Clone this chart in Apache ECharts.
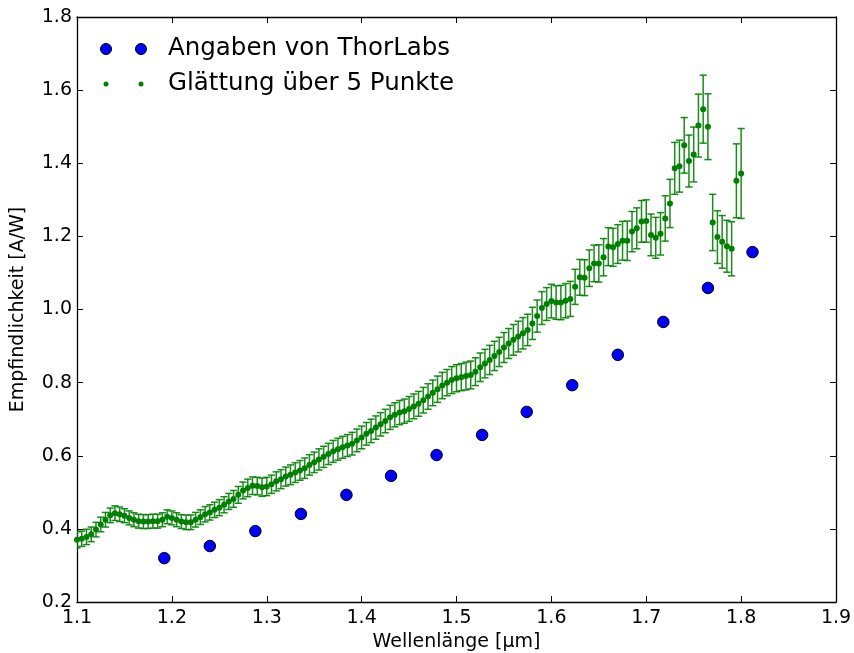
<!DOCTYPE html>
<html>
<head>
<meta charset="utf-8">
<script src="https://cdn.jsdelivr.net/npm/echarts@6/dist/echarts.min.js"></script>
<style>
html,body{margin:0;padding:0;background:#fff;}
#chart{width:854px;height:653px;}
</style>
</head>
<body>
<div id="chart"></div>
<script>
// ThorLabs reference data
var thorWavelength = [1.192,1.240,1.288,1.336,1.384,1.431,1.479,1.527,1.574,1.622,1.670,1.718,1.765,1.812];
var thorResponse   = [0.320,0.353,0.394,0.441,0.493,0.545,0.602,0.657,0.720,0.793,0.876,0.966,1.059,1.157];

// Smoothed measurement (5-point smoothing)
var smoothWavelength = [
1.100,1.105,1.110,1.115,1.120,1.125,1.130,1.135,1.140,1.145,
1.150,1.155,1.160,1.165,1.170,1.175,1.180,1.185,1.190,1.195,
1.200,1.205,1.210,1.215,1.220,1.225,1.230,1.235,1.240,1.245,
1.250,1.255,1.260,1.265,1.270,1.275,1.280,1.285,1.290,1.295,
1.300,1.305,1.310,1.315,1.320,1.325,1.330,1.335,1.340,1.345,
1.350,1.355,1.360,1.365,1.370,1.375,1.380,1.385,1.390,1.395,
1.400,1.405,1.410,1.415,1.420,1.425,1.430,1.435,1.440,1.445,
1.450,1.455,1.460,1.465,1.470,1.475,1.480,1.485,1.490,1.495,
1.500,1.505,1.510,1.515,1.520,1.525,1.530,1.535,1.540,1.545,
1.550,1.555,1.560,1.565,1.570,1.575,1.580,1.585,1.590,1.595,
1.600,1.605,1.610,1.615,1.620,1.625,1.630,1.635,1.640,1.645,
1.650,1.655,1.660,1.665,1.670,1.675,1.680,1.685,1.690,1.695,
1.700,1.705,1.710,1.715,1.720,1.725,1.730,1.735,1.740,1.745,
1.750,1.755,1.760,1.765,1.770,1.775,1.780,1.785,1.790,1.795,
1.800];
var smoothResponse = [
0.370,0.373,0.378,0.385,0.398,0.412,0.425,0.437,0.443,0.440,
0.436,0.430,0.425,0.421,0.420,0.420,0.421,0.421,0.425,0.433,
0.430,0.425,0.420,0.418,0.418,0.425,0.432,0.440,0.445,0.452,
0.458,0.466,0.475,0.482,0.493,0.505,0.512,0.518,0.517,0.514,
0.516,0.522,0.530,0.536,0.543,0.548,0.554,0.560,0.566,0.575,
0.582,0.590,0.597,0.605,0.612,0.618,0.623,0.628,0.633,0.642,
0.650,0.660,0.668,0.677,0.686,0.695,0.705,0.712,0.718,0.722,
0.728,0.735,0.742,0.752,0.762,0.772,0.782,0.792,0.800,0.807,
0.812,0.815,0.818,0.821,0.830,0.842,0.852,0.862,0.873,0.884,
0.896,0.907,0.917,0.926,0.935,0.944,0.962,0.982,1.004,1.015,
1.023,1.019,1.019,1.024,1.029,1.062,1.088,1.087,1.113,1.126,
1.126,1.143,1.172,1.170,1.179,1.188,1.188,1.213,1.222,1.241,
1.242,1.204,1.196,1.207,1.249,1.290,1.386,1.392,1.449,1.406,
1.424,1.503,1.548,1.500,1.238,1.198,1.185,1.173,1.166,1.352,
1.372];
var smoothError = [
0.022,0.021,0.021,0.020,0.020,0.020,0.020,0.020,0.020,0.020,
0.019,0.019,0.019,0.019,0.019,0.019,0.019,0.019,0.019,0.019,
0.019,0.019,0.019,0.020,0.020,0.020,0.020,0.021,0.021,0.021,
0.022,0.022,0.022,0.023,0.023,0.023,0.024,0.024,0.024,0.025,
0.025,0.025,0.026,0.026,0.026,0.027,0.027,0.027,0.028,0.028,
0.028,0.029,0.029,0.029,0.030,0.030,0.030,0.030,0.031,0.031,
0.031,0.031,0.032,0.032,0.032,0.032,0.033,0.033,0.033,0.033,
0.034,0.034,0.034,0.035,0.035,0.035,0.036,0.036,0.036,0.037,
0.037,0.037,0.038,0.038,0.038,0.039,0.039,0.040,0.040,0.040,
0.041,0.041,0.042,0.042,0.043,0.043,0.044,0.044,0.045,0.045,
0.046,0.046,0.047,0.047,0.048,0.048,0.049,0.049,0.050,0.050,
0.051,0.051,0.052,0.052,0.053,0.053,0.054,0.055,0.056,0.057,
0.058,0.057,0.056,0.058,0.062,0.066,0.071,0.071,0.076,0.071,
0.075,0.086,0.093,0.090,0.077,0.072,0.072,0.071,0.074,0.101,
0.123];

var xTicks = {min:1.1, max:1.9, interval:0.1};
var yTicks = {min:0.2, max:1.8, interval:0.2};
var seriesNames = ['Angaben von ThorLabs', 'Glättung über 5 Punkte'];

var FONT = 'DejaVu Sans';
var GREEN = '#008000';
var BLUE = '#0000ff';

var thorData = thorWavelength.map(function(x,i){return [x, thorResponse[i]];});
var smoothData = smoothWavelength.map(function(x,i){return [x, smoothResponse[i]];});
var errData = smoothWavelength.map(function(x,i){
  return [x, smoothResponse[i]-smoothError[i], smoothResponse[i]+smoothError[i]];
});

var chart = echarts.init(document.getElementById('chart'), null, {renderer:'canvas'});

var axisCommon = {
  axisLine:{show:true, onZero:false, lineStyle:{color:'#000', width:1.3}},
  axisTick:{show:true, inside:true, length:6, lineStyle:{color:'#000', width:1}},
  splitLine:{show:false}
};

var option = {
  animation:false,
  backgroundColor:'#fff',
  grid:{left:77, right:18, top:17, bottom:51, containLabel:false, outerBoundsMode:'none'},
  xAxis:[
    Object.assign({
      type:'value', position:'bottom', min:xTicks.min, max:xTicks.max, interval:xTicks.interval,
      name:'Wellenlänge [µm]', nameLocation:'middle', nameGap:24,
      nameTextStyle:{fontFamily:FONT, fontSize:19, color:'#000'},
      axisLabel:{show:true, margin:7, fontFamily:FONT, fontSize:19, color:'#000',
        formatter:function(v){return v.toFixed(1);}}
    }, axisCommon),
    Object.assign({
      type:'value', position:'top', min:xTicks.min, max:xTicks.max, interval:xTicks.interval,
      axisLabel:{show:false}
    }, axisCommon)
  ],
  yAxis:[
    Object.assign({
      type:'value', position:'left', min:yTicks.min, max:yTicks.max, interval:yTicks.interval,
      name:'Empfindlichkeit [A/W]', nameLocation:'middle', nameGap:49, nameRotate:90,
      nameTextStyle:{fontFamily:FONT, fontSize:19, color:'#000'},
      axisLabel:{show:true, margin:5, fontFamily:FONT, fontSize:19, color:'#000',
        formatter:function(v){return v.toFixed(1);}}
    }, axisCommon),
    Object.assign({
      type:'value', position:'right', min:yTicks.min, max:yTicks.max, interval:yTicks.interval,
      axisLabel:{show:false}
    }, axisCommon)
  ],
  series:[
    {
      name:seriesNames[1]+' (Fehler)',
      type:'custom',
      xAxisIndex:0, yAxisIndex:0,
      clip:true,
      z:2,
      data:errData,
      encode:{x:0, y:[1,2]},
      renderItem:function(params, api){
        var x = api.value(0);
        var lo = api.coord([x, api.value(1)]);
        var hi = api.coord([x, api.value(2)]);
        var cw = 3.6;
        var st = {stroke:GREEN, lineWidth:1.5, opacity:0.9};
        return {
          type:'group',
          children:[
            {type:'line', shape:{x1:lo[0], y1:lo[1], x2:hi[0], y2:hi[1]}, style:st},
            {type:'line', shape:{x1:lo[0]-cw, y1:lo[1], x2:lo[0]+cw, y2:lo[1]}, style:st},
            {type:'line', shape:{x1:hi[0]-cw, y1:hi[1], x2:hi[0]+cw, y2:hi[1]}, style:st}
          ]
        };
      }
    },
    {
      name:seriesNames[1],
      type:'scatter',
      xAxisIndex:0, yAxisIndex:0,
      clip:true,
      z:3,
      symbol:'circle',
      symbolSize:6,
      itemStyle:{color:GREEN, opacity:1},
      data:smoothData
    },
    {
      name:seriesNames[0],
      type:'scatter',
      xAxisIndex:0, yAxisIndex:0,
      clip:true,
      z:4,
      symbol:'circle',
      symbolSize:11.5,
      itemStyle:{color:BLUE, borderColor:'#000', borderWidth:1, opacity:1},
      data:thorData
    }
  ],
  graphic:[
    {type:'circle', shape:{cx:106, cy:49, r:5.5}, style:{fill:BLUE, stroke:'#000', lineWidth:1}, z:10},
    {type:'circle', shape:{cx:141, cy:49, r:5.5}, style:{fill:BLUE, stroke:'#000', lineWidth:1}, z:10},
    {type:'text', x:168, y:49, style:{text:seriesNames[0], fontFamily:FONT, fontSize:24.5, fill:'#000', verticalAlign:'middle', align:'left'}, z:10},
    {type:'circle', shape:{cx:106, cy:84, r:2.5}, style:{fill:GREEN}, z:10},
    {type:'circle', shape:{cx:141, cy:84, r:2.5}, style:{fill:GREEN}, z:10},
    {type:'text', x:168, y:84, style:{text:seriesNames[1], fontFamily:FONT, fontSize:24.5, fill:'#000', verticalAlign:'middle', align:'left'}, z:10}
  ]
};
chart.setOption(option);
</script>
</body>
</html>
